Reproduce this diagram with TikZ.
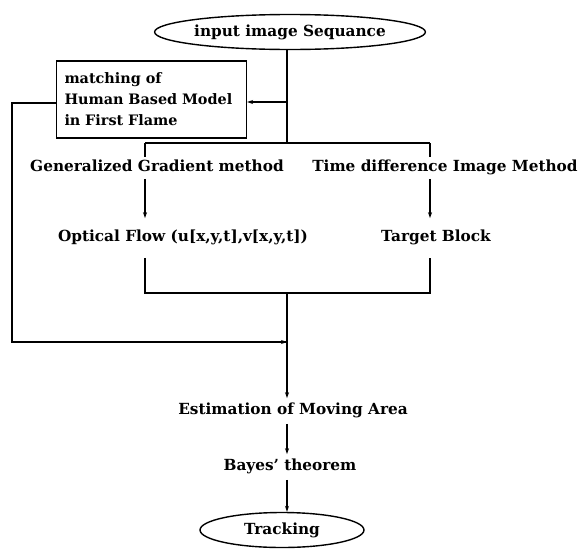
\documentclass[tikz,border=0pt]{standalone}
\usepackage{fontspec}
\setmainfont{DejaVu Serif}
\usetikzlibrary{shapes.geometric,arrows.meta}
\begin{document}
\begin{tikzpicture}[x=1pt,y=-1pt,
  line width=1.1pt,
  every node/.style={font=\bfseries\fontsize{15.3}{21}\selectfont},
  lbl/.style={inner xsep=0pt, inner ysep=#1, text height=11pt, text depth=3.5pt},
  lbl/.default=3pt,
  oval/.style={draw, ellipse, inner sep=0pt, line width=1.4pt},
  boxnode/.style={draw, rectangle, align=left, inner xsep=8pt, text width=174pt, minimum height=77pt,
    font=\bfseries\fontsize{14.4}{21}\selectfont},
  arr/.style={-{Stealth[length=6pt,width=4pt]}}]
\useasboundingbox (0,0) rectangle (578,549);
% nodes
\node[oval, minimum width=229pt, minimum height=35pt] (in) at (290,32) {input image Sequance};
\node[boxnode] (match) at (151.5,99.5) {matching of\\Human Based Model\\in First Flame};
\node[lbl] (gen) at (157,168) {Generalized Gradient method};
\node[lbl] (time) at (445,168) {Time difference Image Method};
\node[lbl=12pt] (opt) at (183,238) {Optical Flow (u[x,y,t],v[x,y,t])};
\node[lbl=12pt] (tgt) at (436,238) {Target Block};
\node[lbl=5pt] (est) at (293,411) {Estimation of Moving Area};
\node[lbl=5pt] (bay) at (290,467) {Bayes' theorem};
\node[oval, minimum width=164pt, minimum height=35pt] (trk) at (282,530) {Tracking};
% coordinates
\coordinate (jm) at (287,102);
\coordinate (jb) at (287,143);
\coordinate (bl) at (145,143);
\coordinate (br) at (430,143);
\coordinate (ll) at (12,103);
\coordinate (lb) at (12,342);
\coordinate (mj) at (287,342);
\coordinate (cl) at (145,293);
\coordinate (cm) at (287,293);
\coordinate (cr) at (430,293);
% connectors
\draw (in.south -| jb) -- (jb);
\draw[arr] (jm) -- (match.east |- jm);
\draw (bl) -- (br);
\draw (bl) -- (bl |- gen.north);
\draw (br) -- (br |- time.north);
\draw[arr] (bl |- gen.south) -- (bl |- opt.north);
\draw[arr] (br |- time.south) -- (br |- tgt.north);
\draw (bl |- opt.south) -- (cl) -- (cr) -- (br |- tgt.south);
\draw (match.west |- ll) -- (ll) -- (lb) -- (mj);
\draw[arr] (lb) -- (mj);
\draw[arr] (cm) -- (cm |- est.north);
\draw[arr] (cm |- est.south) -- (cm |- bay.north);
\draw[arr] (cm |- bay.south) -- (cm |- trk.north);
\end{tikzpicture}
\end{document}
